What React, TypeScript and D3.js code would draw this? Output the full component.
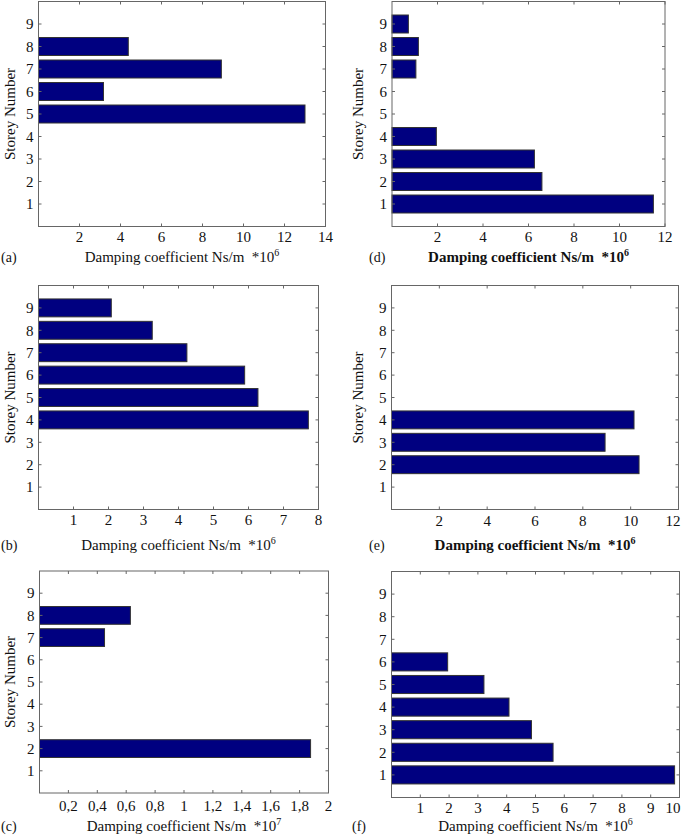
import React from "react";
import * as d3 from "d3";

// Panel (a)
const storeysA = [8, 7, 6, 5];
const valuesA = [4.38, 8.92, 3.17, 13.0];
const ticksA = [2, 4, 6, 8, 10, 12, 14];
const tickLabelsA = ["2", "4", "6", "8", "10", "12", "14"];

// Panel (b)
const storeysB = [9, 8, 7, 6, 5, 4];
const valuesB = [2.08, 3.25, 4.24, 5.89, 6.27, 7.71];
const ticksB = [1, 2, 3, 4, 5, 6, 7, 8];
const tickLabelsB = ["1", "2", "3", "4", "5", "6", "7", "8"];

// Panel (c)
const storeysC = [8, 7, 2];
const valuesC = [0.629, 0.45, 1.876];
const ticksC = [0.2, 0.4, 0.6, 0.8, 1, 1.2, 1.4, 1.6, 1.8, 2];
const tickLabelsC = ["0,2", "0,4", "0,6", "0,8", "1", "1,2", "1,4", "1,6", "1,8", "2"];

// Panel (d)
const storeysD = [9, 8, 7, 4, 3, 2, 1];
const valuesD = [0.72, 1.16, 1.05, 1.95, 6.26, 6.59, 11.49];
const ticksD = [2, 4, 6, 8, 10, 12];
const tickLabelsD = ["2", "4", "6", "8", "10", "12"];

// Panel (e)
const storeysE = [4, 3, 2];
const valuesE = [10.14, 8.93, 10.35];
const ticksE = [2, 4, 6, 8, 10, 12];
const tickLabelsE = ["2", "4", "6", "8", "10", "12"];

// Panel (f)
const storeysF = [6, 5, 4, 3, 2, 1];
const valuesF = [1.95, 3.21, 4.08, 4.86, 5.61, 9.83];
const ticksF = [1, 2, 3, 4, 5, 6, 7, 8, 9, 10];
const tickLabelsF = ["1", "2", "3", "4", "5", "6", "7", "8", "9", "10"];

const yTicks = [1, 2, 3, 4, 5, 6, 7, 8, 9];

const FONT = "'Liberation Serif', 'Times New Roman', serif";
const BAR_FILL = "#000080";
const FRAME = "#666";

type PanelProps = {
  box: { l: number; r: number; t: number; b: number };
  xMax: number;
  storeys: number[];
  values: number[];
  ticks: number[];
  tickLabels: string[];
  tag: string;
  tagX: number;
  exp: string;
  showYLabel: boolean;
  yLabelX: number;
  boldLabel: boolean;
  tickLabelY: number;
  axisLabelY: number;
};

function Panel(p: PanelProps) {
  const x = d3.scaleLinear().domain([0, p.xMax]).range([p.box.l, p.box.r]);
  const y = d3.scaleLinear().domain([0, 10]).range([p.box.b, p.box.t]);
  const unit = Math.abs(y(1) - y(0));
  const barH = unit * 0.8;
  const tl = 3;
  const cx = (p.box.l + p.box.r) / 2;
  return (
    <g>
      {p.storeys.map((s, i) => (
        <rect
          key={"bar" + i}
          x={x(0)}
          y={y(s) - barH / 2}
          width={x(p.values[i]) - x(0)}
          height={barH}
          fill={BAR_FILL}
          stroke="#333"
          strokeWidth={1}
        />
      ))}
      <rect
        x={p.box.l}
        y={p.box.t}
        width={p.box.r - p.box.l}
        height={p.box.b - p.box.t}
        fill="none"
        stroke={FRAME}
        strokeWidth={1}
      />
      {p.ticks.map((t, i) => (
        <g key={"xt" + i}>
          <line x1={x(t)} x2={x(t)} y1={p.box.b} y2={p.box.b - tl} stroke={FRAME} />
          <line x1={x(t)} x2={x(t)} y1={p.box.t} y2={p.box.t + tl} stroke={FRAME} />
          <text
            x={Math.min(x(t), 673)}
            y={p.tickLabelY}
            textAnchor="middle"
            fontFamily={FONT}
            fontSize={15}
            fill="#111"
          >
            {p.tickLabels[i]}
          </text>
        </g>
      ))}
      {yTicks.map((t) => (
        <g key={"yt" + t}>
          <line x1={p.box.l} x2={p.box.l + tl} y1={y(t)} y2={y(t)} stroke={FRAME} />
          <line x1={p.box.r} x2={p.box.r - tl} y1={y(t)} y2={y(t)} stroke={FRAME} />
          <text
            x={p.box.l - 5}
            y={y(t)}
            dy="0.35em"
            textAnchor="end"
            fontFamily={FONT}
            fontSize={15}
            fill="#111"
          >
            {t}
          </text>
        </g>
      ))}
      <text
        x={cx}
        y={p.axisLabelY}
        textAnchor="middle"
        fontFamily={FONT}
        fontSize={15}
        fontWeight={p.boldLabel ? "bold" : "normal"}
        fill="#111"
      >
        Damping coefficient Ns/m {"\u00a0"}*10
        <tspan fontSize={10} dy={-6}>
          {p.exp}
        </tspan>
      </text>
      <text
        x={p.tagX}
        y={p.axisLabelY}
        fontFamily={FONT}
        fontSize={14}
        fill="#111"
      >
        {p.tag}
      </text>
      {p.showYLabel && (
        <text
          transform={`translate(${p.yLabelX},${(p.box.t + p.box.b) / 2}) rotate(-90)`}
          textAnchor="middle"
          dy="0.35em"
          fontFamily={FONT}
          fontSize={15}
          fill="#111"
        >
          Storey Number
        </text>
      )}
    </g>
  );
}

export default function App() {
  return (
    <svg
      width={685}
      height={836}
      style={{ position: "absolute", left: 0, top: 0, background: "#fff" }}
    >
      <Panel
        box={{ l: 38.5, r: 325.5, t: 1.5, b: 226.5 }}
        xMax={14}
        storeys={storeysA}
        values={valuesA}
        ticks={ticksA}
        tickLabels={tickLabelsA}
        tag="(a)"
        tagX={1}
        exp="6"
        showYLabel={true}
        yLabelX={10}
        boldLabel={false}
        tickLabelY={242}
        axisLabelY={262}
      />
      <Panel
        box={{ l: 392, r: 665, t: 1.5, b: 226.5 }}
        xMax={12}
        storeys={storeysD}
        values={valuesD}
        ticks={ticksD}
        tickLabels={tickLabelsD}
        tag="(d)"
        tagX={369}
        exp="6"
        showYLabel={true}
        yLabelX={358}
        boldLabel={true}
        tickLabelY={242}
        axisLabelY={262}
      />
      <Panel
        box={{ l: 38.5, r: 318.5, t: 285.5, b: 509.5 }}
        xMax={8}
        storeys={storeysB}
        values={valuesB}
        ticks={ticksB}
        tickLabels={tickLabelsB}
        tag="(b)"
        tagX={1}
        exp="6"
        showYLabel={true}
        yLabelX={10}
        boldLabel={false}
        tickLabelY={525}
        axisLabelY={550}
      />
      <Panel
        box={{ l: 391.5, r: 678.5, t: 285.5, b: 509.5 }}
        xMax={12}
        storeys={storeysE}
        values={valuesE}
        ticks={ticksE}
        tickLabels={tickLabelsE}
        tag="(e)"
        tagX={369}
        exp="6"
        showYLabel={true}
        yLabelX={358}
        boldLabel={true}
        tickLabelY={526}
        axisLabelY={550}
      />
      <Panel
        box={{ l: 39.5, r: 328.5, t: 571, b: 793 }}
        xMax={2}
        storeys={storeysC}
        values={valuesC}
        ticks={ticksC}
        tickLabels={tickLabelsC}
        tag="(c)"
        tagX={1}
        exp="7"
        showYLabel={true}
        yLabelX={10}
        boldLabel={false}
        tickLabelY={811}
        axisLabelY={831}
      />
      <Panel
        box={{ l: 391.5, r: 679.5, t: 571.5, b: 797.5 }}
        xMax={10}
        storeys={storeysF}
        values={valuesF}
        ticks={ticksF}
        tickLabels={tickLabelsF}
        tag="(f)"
        tagX={352}
        exp="6"
        showYLabel={false}
        yLabelX={358}
        boldLabel={false}
        tickLabelY={813}
        axisLabelY={831}
      />
    </svg>
  );
}
